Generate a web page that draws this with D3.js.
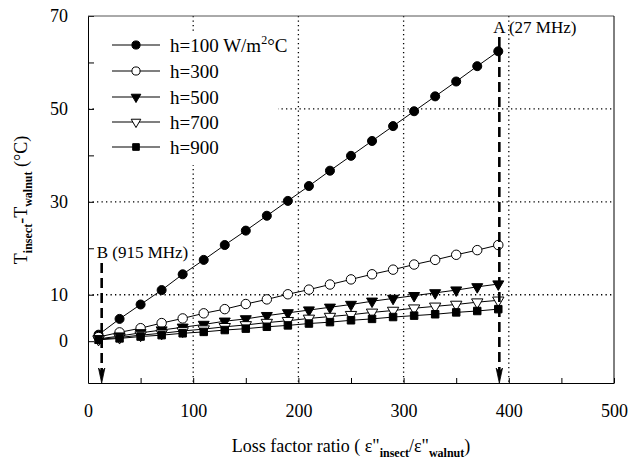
<!DOCTYPE html>
<html>
<head>
<meta charset="utf-8">
<script src="https://cdn.jsdelivr.net/npm/d3@7"></script>
<style>
  html, body { margin: 0; padding: 0; background: #fff; }
  svg { display: block; }
  text { font-family: "Liberation Serif", "Times New Roman", serif; fill: #000; }
</style>
</head>
<body>
<svg id="chart" width="628" height="466"></svg>
<script>
// ---- data ----
const lossRatio = [10, 30, 50, 70, 90, 110, 130, 150, 170, 190, 210, 230, 250, 270, 290, 310, 330, 350, 370, 390];
const h100 = [1.4, 4.8, 7.9, 11.0, 14.4, 17.5, 20.7, 23.8, 27.0, 30.2, 33.4, 36.7, 39.9, 43.1, 46.3, 49.5, 52.7, 55.9, 59.2, 62.4];
const h300 = [0.9, 1.9, 2.8, 3.9, 4.9, 6.0, 6.9, 8.0, 9.0, 10.1, 11.1, 12.2, 13.3, 14.4, 15.4, 16.5, 17.5, 18.6, 19.6, 20.7];
const h500 = [0.5, 1.1, 1.8, 2.4, 3.0, 3.6, 4.3, 4.8, 5.5, 6.1, 6.7, 7.3, 7.9, 8.6, 9.2, 9.8, 10.4, 11.0, 11.7, 12.3];
const h700 = [0.4, 0.8, 1.3, 1.7, 2.2, 2.6, 3.1, 3.5, 4.0, 4.4, 4.9, 5.3, 5.7, 6.2, 6.6, 7.1, 7.5, 7.9, 8.4, 8.8];
const h900 = [0.3, 0.6, 1.0, 1.3, 1.7, 2.0, 2.4, 2.7, 3.1, 3.4, 3.8, 4.1, 4.5, 4.8, 5.2, 5.5, 5.8, 6.2, 6.5, 6.9];
const seriesNames = ["h=100", "h=300", "h=500", "h=700", "h=900"];
const xTicks = [0, 50, 100, 150, 200, 250, 300, 350, 400, 450, 500];
const xTickLabels = [0, 100, 200, 300, 400, 500];
const yTicks = [0, 10, 20, 30, 40, 50, 60, 70];
const yTickLabels = [0, 10, 30, 50, 70];
const xGrid = [100, 200, 300, 400];
const yGrid = [10, 30, 50];
const markerA = { x: 391, label: "A (27 MHz)" };
const markerB = { x: 13, label: "B (915 MHz)" };

// ---- layout ----
const svg = d3.select("#chart");
const x = d3.scaleLinear().domain([0, 500]).range([88, 614]);
const y = d3.scaleLinear().domain([-9, 70]).range([383, 16]);

const seriesData = [h100, h300, h500, h700, h900];
const styles = [
  { type: d3.symbolCircle, size: 64, fill: "#000", rot: 0, lsize: 52 },
  { type: d3.symbolCircle, size: 70, fill: "#fff", rot: 0, lsize: 52 },
  { type: d3.symbolTriangle, size: 52, fill: "#000", rot: 180, lsize: 40 },
  { type: d3.symbolTriangle, size: 56, fill: "#fff", rot: 180, lsize: 40 },
  { type: d3.symbolSquare, size: 56, fill: "#000", rot: 0, lsize: 44 }
];

// grid
const grid = svg.append("g").attr("stroke", "#000").attr("stroke-width", 1.3)
  .attr("stroke-dasharray", "1.3,3.2").attr("fill", "none");
grid.selectAll(".gx").data(xGrid).join("line")
  .attr("x1", d => x(d)).attr("x2", d => x(d)).attr("y1", y(70)).attr("y2", y(-9));
grid.selectAll(".gy").data(yGrid).join("line")
  .attr("x1", x(0)).attr("x2", x(500)).attr("y1", d => y(d)).attr("y2", d => y(d));

// legend background (hides grid)
svg.append("rect").attr("x", 96).attr("y", 33).attr("width", 182).attr("height", 132).attr("fill", "#fff");

// lines
const line = d3.line().x((d, i) => x(lossRatio[i])).y(d => y(d));
seriesData.forEach((s, k) => {
  svg.append("path").datum(s).attr("d", line)
    .attr("fill", "none").attr("stroke", "#000").attr("stroke-width", 1);
});

// markers
seriesData.forEach((s, k) => {
  const st = styles[k];
  const sym = d3.symbol().type(st.type).size(st.size);
  svg.append("g").selectAll("path").data(s).join("path")
    .attr("d", sym)
    .attr("transform", (d, i) => `translate(${x(lossRatio[i])},${y(d)}) rotate(${st.rot})`)
    .attr("fill", st.fill).attr("stroke", "#000").attr("stroke-width", 1);
});

// annotation dashed arrows
function arrow(xv, yTop) {
  const px = x(xv);
  const yb = y(-9);
  svg.append("line").attr("x1", px).attr("x2", px).attr("y1", yTop).attr("y2", yb - 10)
    .attr("stroke", "#000").attr("stroke-width", 2.6).attr("stroke-dasharray", "10,5");
  svg.append("path")
    .attr("d", `M${px - 3.2},${yb - 15} L${px},${yb} L${px + 3.2},${yb - 15} L${px},${yb - 11} Z`)
    .attr("fill", "#000").attr("stroke", "#000").attr("stroke-width", 0.8);
}
arrow(markerA.x, 37);
arrow(markerB.x, 263);
svg.append("text").attr("x", x(markerA.x) - 6).attr("y", 33).attr("font-size", 17).text(markerA.label);
svg.append("text").attr("x", x(markerB.x) - 5).attr("y", 258).attr("font-size", 17).text(markerB.label);

// legend
const legRows = [45, 71, 97, 122, 147];
seriesNames.forEach((name, k) => {
  const st = styles[k];
  const g = svg.append("g").attr("transform", `translate(0,${legRows[k]})`);
  g.append("line").attr("x1", 112).attr("x2", 160).attr("y1", 0).attr("y2", 0)
    .attr("stroke", "#000").attr("stroke-width", 1.2);
  g.append("path").attr("d", d3.symbol().type(st.type).size(st.lsize))
    .attr("transform", `translate(136,0) rotate(${st.rot})`)
    .attr("fill", st.fill).attr("stroke", "#000").attr("stroke-width", 1);
  const t = g.append("text").attr("x", 170).attr("y", 6.5).attr("font-size", 19).text(name);
  if (k === 0) {
    t.append("tspan").text(" W/m");
    t.append("tspan").attr("font-size", 12).attr("dy", -8).text("2");
    t.append("tspan").attr("dy", 8).text("°C");
  }
});

// axes
const xAxis = d3.axisBottom(x).tickValues(xTicks)
  .tickFormat(d => xTickLabels.includes(d) ? d : "")
  .tickSizeInner(-5).tickSizeOuter(0).tickPadding(21);
const gx = svg.append("g").attr("transform", `translate(0,${y(-9)})`).call(xAxis);
gx.selectAll("text").attr("font-size", 18).attr("font-family", "Liberation Serif");

const yAxis = d3.axisLeft(y).tickValues(yTicks)
  .tickFormat(d => yTickLabels.includes(d) ? d : "")
  .tickSizeInner(-6).tickSizeOuter(0).tickPadding(20);
const gy = svg.append("g").attr("transform", `translate(${x(0)},0)`).call(yAxis);
gy.selectAll("text").attr("font-size", 18).attr("font-family", "Liberation Serif");

// frame top/right
svg.append("line").attr("x1", x(0)).attr("x2", x(500)).attr("y1", y(70)).attr("y2", y(70))
  .attr("stroke", "#555").attr("stroke-width", 1);
svg.append("line").attr("x1", x(500)).attr("x2", x(500)).attr("y1", y(70)).attr("y2", y(-9))
  .attr("stroke", "#000").attr("stroke-width", 1);

// axis titles
const xt = svg.append("text").attr("x", 351).attr("y", 452).attr("text-anchor", "middle").attr("font-size", 18);
xt.append("tspan").text("Loss factor ratio ( ε\"");
xt.append("tspan").attr("font-size", 12).attr("font-weight", "bold").attr("dy", 5).text("insect");
xt.append("tspan").attr("dy", -5).text("/ε\"");
xt.append("tspan").attr("font-size", 12).attr("font-weight", "bold").attr("dy", 5).text("walnut");
xt.append("tspan").attr("dy", -5).text(")");

const yt = svg.append("text").attr("transform", "translate(27,200) rotate(-90)")
  .attr("text-anchor", "middle").attr("font-size", 18);
yt.append("tspan").text("T");
yt.append("tspan").attr("font-size", 12).attr("font-weight", "bold").attr("dy", 5).text("insect");
yt.append("tspan").attr("dy", -5).text("-T");
yt.append("tspan").attr("font-size", 12).attr("font-weight", "bold").attr("dy", 5).text("walnut");
yt.append("tspan").attr("dy", -5).text(" (°C)");
</script>
</body>
</html>
